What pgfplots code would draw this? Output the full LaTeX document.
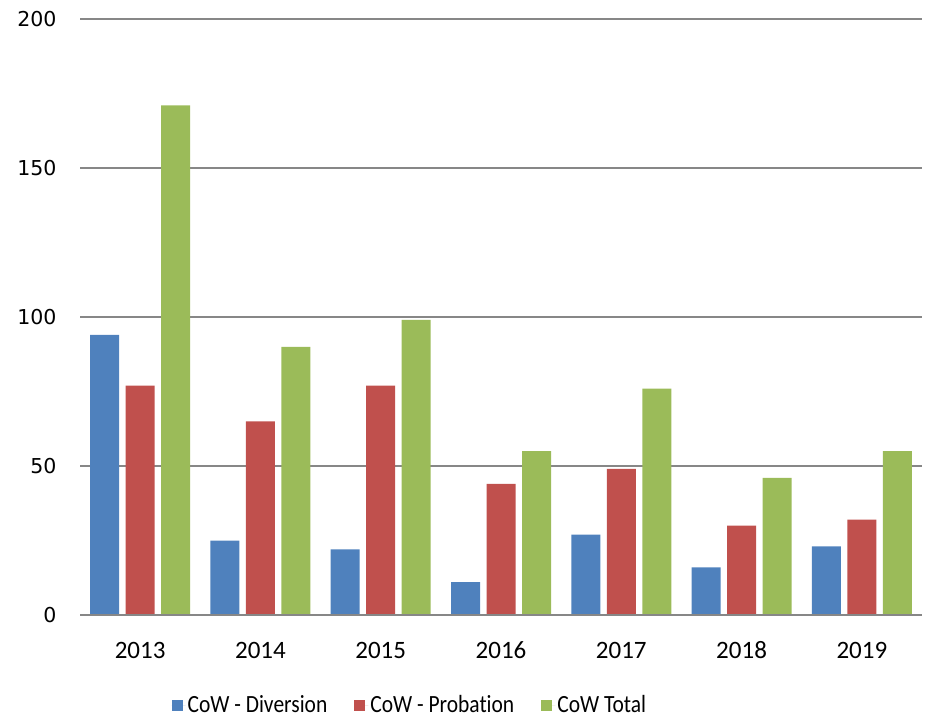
\documentclass[border=0pt]{standalone}
\usepackage{fontspec}
\setmainfont{Carlito}[Ligatures=NoCommon]
\newfontfamily\ytickfont{DejaVu Sans}
\usepackage{graphicx}
\usepackage{pgfplots}
\pgfplotsset{compat=1.18}
\definecolor{cblue}{HTML}{4F81BD}
\definecolor{cred}{HTML}{C0504D}
\definecolor{cgreen}{HTML}{9BBB59}
\definecolor{cgrid}{HTML}{878787}
\begin{document}
\begin{tikzpicture}
\begin{axis}[
  scale only axis,
  width=842pt, height=596pt,
  ymin=0, ymax=200,
  xmin=-0.5, xmax=6.5,
  ytick={0,50,100,150,200},
  xtick={0,1,2,3,4,5,6},
  xticklabels={2013,2014,2015,2016,2017,2018,2019},
  ymajorgrids,
  grid style={cgrid, line width=1.6pt},
  axis line style={draw=none},
  axis x line*=bottom,
  axis y line*=left,
  major tick length=0pt,
  /pgf/number format/assume math mode=true,
  yticklabel style={font=\ytickfont\fontsize{20.5}{22}\selectfont, xshift=-20pt},
  xticklabel style={font=\fontsize{25}{27}\selectfont, anchor=base, yshift=-43pt},
  ybar=6.5pt,
  bar width=29pt,
  legend style={at={(axis description cs:0.105,-0.151)}, anchor=west, draw=none,
    font=\fontsize{21.5}{24}\selectfont, legend columns=-1,
    /tikz/every even column/.append style={column sep=25pt}},
  legend image code/.code={\fill[#1] (0pt,-5.5pt) rectangle (11pt,5.5pt); \path (0pt,0pt) -- (14pt,0pt);},
  clip=false,
]
\addplot[fill=cblue, draw=none] coordinates {(0,94) (1,25) (2,22) (3,11) (4,27) (5,16) (6,23)};
\addplot[fill=cred, draw=none] coordinates {(0,77) (1,65) (2,77) (3,44) (4,49) (5,30) (6,32)};
\addplot[fill=cgreen, draw=none] coordinates {(0,171) (1,90) (2,99) (3,55) (4,76) (5,46) (6,55)};
\legend{\scalebox{1}[1.15]{CoW - Diversion}, \scalebox{1}[1.15]{CoW - Probation}, \scalebox{1}[1.15]{CoW Total}}
\draw[cgrid, line width=1.6pt] (axis cs:-0.5,0) -- (axis cs:6.5,0);
\end{axis}
\pgfresetboundingbox
\path (current axis.south west) ++(-80pt,-103pt) coordinate (bl);
\path (current axis.north east) ++(8pt,19pt) coordinate (tr);
\path[use as bounding box] (bl) rectangle (tr);
\end{tikzpicture}
\end{document}
